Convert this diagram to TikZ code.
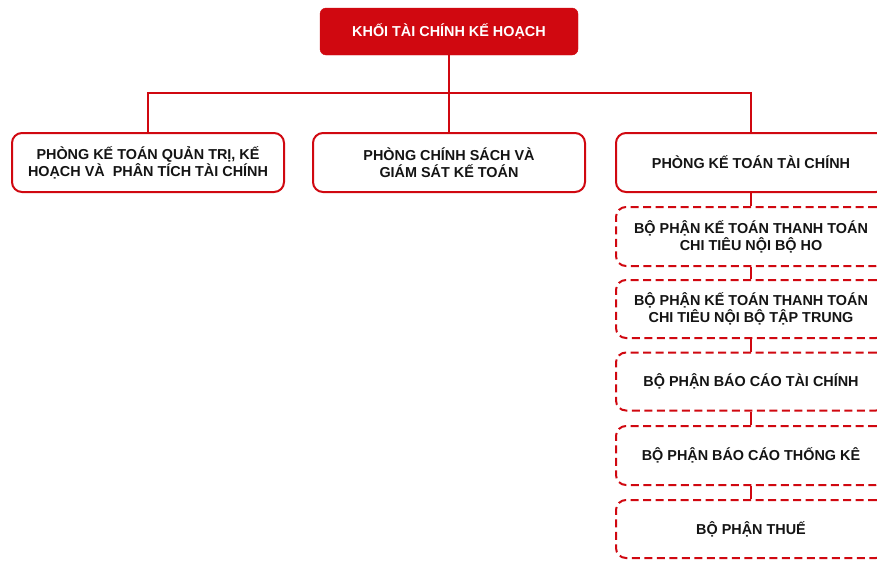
\documentclass[tikz,border=0pt]{standalone}
\usepackage{fontspec}
\setmainfont{Liberation Sans}
\definecolor{orgred}{RGB}{208,8,16}
\definecolor{txt}{RGB}{20,20,20}
\begin{document}
\begin{tikzpicture}[x=1pt,y=-1pt,
  lbl/.style={font=\bfseries\fontsize{14.4}{17}\selectfont, align=center, text=txt, inner sep=0pt},
  topbox/.style={lbl, fill=orgred, draw=orgred, text=white, rounded corners=6pt, minimum width=258pt, minimum height=47pt},
  unitbox/.style={lbl, draw=orgred, line width=2pt, rounded corners=10pt, fill=white, minimum width=272pt, minimum height=59pt},
  subbox/.style={lbl, draw=orgred, line width=2pt, dash pattern=on 8pt off 4.5pt, rounded corners=10pt, fill=white, minimum width=270pt, minimum height=58pt},
  link/.style={draw=orgred, line width=2pt}]
\useasboundingbox (0,0) rectangle (877,560);
\clip (0,0) rectangle (877,560);
\node[topbox] (top) at (449,31.5) {KHỐI TÀI CHÍNH KẾ HOẠCH};
\node[unitbox] (left) at (148,162.5) {PHÒNG KẾ TOÁN QUẢN TRỊ, KẾ\\HOẠCH VÀ \ PHÂN TÍCH TÀI CHÍNH};
\node[unitbox] (mid) at (449,162.5) {PHÒNG CHÍNH SÁCH VÀ\\GIÁM SÁT KẾ TOÁN};
\node[unitbox, minimum width=270pt] (right) at (751,162.5) {PHÒNG KẾ TOÁN TÀI CHÍNH};
\node[subbox, minimum height=59pt] (s1) at (751,236.5) {BỘ PHẬN KẾ TOÁN THANH TOÁN\\CHI TIÊU NỘI BỘ HO};
\node[subbox] (s2) at (751,309) {BỘ PHẬN KẾ TOÁN THANH TOÁN\\CHI TIÊU NỘI BỘ TẬP TRUNG};
\node[subbox] (s3) at (751,381.5) {BỘ PHẬN BÁO CÁO TÀI CHÍNH};
\node[subbox, minimum height=59pt] (s4) at (751,455.5) {BỘ PHẬN BÁO CÁO THỐNG KÊ};
\node[subbox] (s5) at (751,529) {BỘ PHẬN THUẾ};
\coordinate (bus) at (449,93);
\draw[link] (top.south) -- (mid.north);
\draw[link] (left.north) |- (bus) -| (right.north);
\draw[link] (right.south) -- (s1.north);
\draw[link] (s1.south) -- (s2.north);
\draw[link] (s2.south) -- (s3.north);
\draw[link] (s3.south) -- (s4.north);
\draw[link] (s4.south) -- (s5.north);
\end{tikzpicture}
\end{document}
